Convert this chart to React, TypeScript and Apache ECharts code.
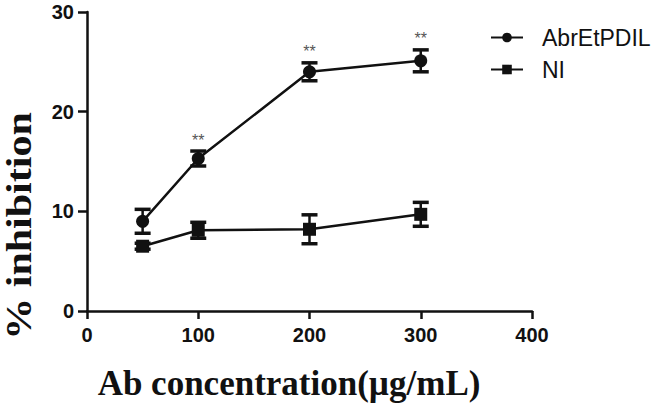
import React, { useEffect, useRef } from "react";
import * as echarts from "echarts";

const xValues = [50, 100, 200, 300];
const abrMean = [9.0, 15.3, 24.0, 25.1];
const abrErr = [1.2, 0.75, 0.9, 1.1];
const niMean = [6.5, 8.1, 8.2, 9.7];
const niErr = [0.3, 0.8, 1.45, 1.2];
const starIndex = [1, 2, 3];
const seriesNames = ["AbrEtPDIL", "NI"];
const xTicks = [0, 100, 200, 300, 400];
const yTicks = [0, 10, 20, 30];
const xTitle = "Ab concentration(µg/mL)";
const yTitle = "% inhibition";

function errorSeries(means: number[], errs: number[]) {
  return {
    type: "custom",
    silent: true,
    z: 3,
    data: xValues.map((x, i) => [x, means[i] - errs[i], means[i] + errs[i]]),
    renderItem: (params: any, api: any) => {
      const x = api.value(0);
      const lo = api.coord([x, api.value(1)]);
      const hi = api.coord([x, api.value(2)]);
      const w = 8;
      const st = { stroke: "#111", lineWidth: 2.5 };
      const cap = { stroke: "#111", lineWidth: 3.5 };
      return {
        type: "group",
        children: [
          { type: "line", shape: { x1: lo[0], y1: lo[1], x2: hi[0], y2: hi[1] }, style: st },
          { type: "line", shape: { x1: lo[0] - w, y1: lo[1], x2: lo[0] + w, y2: lo[1] }, style: cap },
          { type: "line", shape: { x1: hi[0] - w, y1: hi[1], x2: hi[0] + w, y2: hi[1] }, style: cap },
        ],
      };
    },
  };
}

export default function App() {
  const ref = useRef<HTMLDivElement>(null);
  useEffect(() => {
    if (!ref.current) return;
    const chart = echarts.init(ref.current, null, { renderer: "svg" });
    const axisLine = { show: true, lineStyle: { color: "#111", width: 2.5 } };
    const tickLabel = { color: "#111", fontFamily: "Liberation Sans, Arial", fontWeight: "bold" as const, fontSize: 20 };
    const titleFont = "bold 35px Liberation Serif, Times New Roman, serif";
    chart.setOption({
      animation: false,
      backgroundColor: "#fff",
      grid: { left: 87, top: 12, right: 124, bottom: 92, containLabel: false },
      legend: {
        left: 485,
        top: 21,
        orient: "vertical",
        itemGap: 9,
        itemWidth: 32,
        itemHeight: 12,
        textStyle: { fontFamily: "Liberation Sans, Arial", fontSize: 23, color: "#111", padding: [0, 0, 0, 14] },
        data: [seriesNames[0], seriesNames[1]],
      },
      graphic: [
        {
          type: "text",
          x: 289,
          y: 383,
          style: { text: xTitle, font: titleFont, fill: "#111", textAlign: "center", textVerticalAlign: "middle" },
        },
        {
          type: "text",
          x: 19,
          y: 226,
          rotation: Math.PI / 2,
          scaleX: 1.2,
          style: { text: yTitle, font: titleFont, fill: "#111", textAlign: "center", textVerticalAlign: "middle" },
        },
      ],
      xAxis: {
        type: "value",
        min: 0,
        max: 400,
        interval: 100,
        axisLine,
        axisTick: { show: true, length: 8, lineStyle: { color: "#111", width: 2.5 } },
        axisLabel: { ...tickLabel, margin: 14, formatter: (v: number) => (xTicks.includes(v) ? String(v) : "") },
        splitLine: { show: false },
      },
      yAxis: {
        type: "value",
        min: 0,
        max: 30,
        interval: 10,
        axisLine,
        axisTick: { show: true, length: 9, lineStyle: { color: "#111", width: 2.5 } },
        axisLabel: { ...tickLabel, margin: 13, formatter: (v: number) => (yTicks.includes(v) ? String(v) : "") },
        splitLine: { show: false },
      },
      series: [
        {
          name: seriesNames[0],
          type: "line",
          symbol: "circle",
          symbolSize: 13,
          z: 4,
          itemStyle: { color: "#111" },
          lineStyle: { color: "#111", width: 2.5 },
          data: xValues.map((x, i) => [x, abrMean[i]]),
        },
        {
          name: seriesNames[1],
          type: "line",
          symbol: "rect",
          symbolSize: 13,
          z: 4,
          itemStyle: { color: "#111" },
          lineStyle: { color: "#111", width: 2.5 },
          data: xValues.map((x, i) => [x, niMean[i]]),
        },
        errorSeries(abrMean, abrErr),
        errorSeries(niMean, niErr),
        {
          type: "custom",
          silent: true,
          z: 5,
          data: starIndex.map((i) => [xValues[i], abrMean[i] + abrErr[i]]),
          renderItem: (params: any, api: any) => {
            const p = api.coord([api.value(0), api.value(1)]);
            return {
              type: "text",
              x: p[0],
              y: p[1] - 3,
              style: {
                text: "**",
                fill: "#555",
                font: "16px Liberation Sans, Arial",
                textAlign: "center",
                textVerticalAlign: "bottom",
              },
            };
          },
        },
      ],
    });
    return () => chart.dispose();
  }, []);
  return <div ref={ref} style={{ width: 656, height: 403, position: "absolute", left: 0, top: 0 }} />;
}
